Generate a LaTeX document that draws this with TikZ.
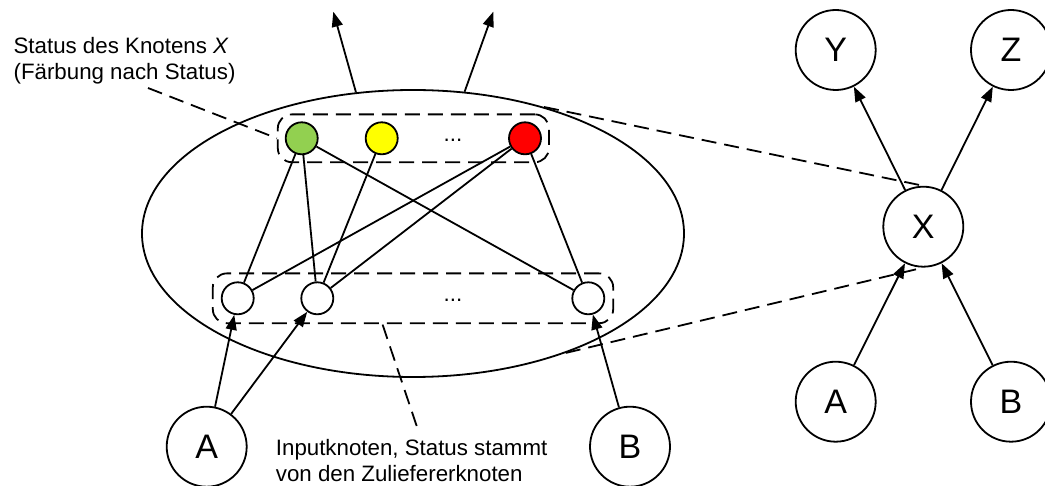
\documentclass[tikz,border=0pt]{standalone}
\usepackage{fontspec}
\setmainfont{Liberation Sans}
\usetikzlibrary{shapes.geometric,arrows.meta,fit}
\definecolor{stgreen}{HTML}{92D050}
\definecolor{styellow}{HTML}{FFFF00}
\definecolor{stred}{HTML}{FF0000}
\begin{document}
\begin{tikzpicture}[x=1pt,y=-1pt,line width=1.8pt,
  big/.style={circle,draw,minimum size=80pt,inner sep=0pt,font=\fontsize{34}{34}\selectfont},
  small/.style={circle,draw,minimum size=32pt,inner sep=0pt},
  arr/.style={-{Triangle[length=15pt,width=11pt]}},
  dsh/.style={dash pattern=on 15pt off 8pt},
  lbl/.style={align=left,inner sep=0pt,font=\fontsize{22.3}{26.7}\selectfont},
  dots/.style={inner sep=0pt,font=\fontsize{22.3}{26.7}\selectfont}]
\useasboundingbox (0,0) rectangle (1045,486);
% ellipse
\node[ellipse,draw,minimum width=542pt,minimum height=287pt,inner sep=0pt] (ell) at (413,233.5) {};
% small circles
\node[small,fill=stgreen] (s1) at (301.7,138.3) {};
\node[small,fill=styellow] (s2) at (381.7,138.3) {};
\node[dots,anchor=base] (d1) at (453,142) {...};
\node[small,fill=stred] (s3) at (525,138.3) {};
\node[small,fill=white] (i1) at (237.7,298.3) {};
\node[small,fill=white] (i2) at (317.3,298.3) {};
\node[dots,anchor=base] (d2) at (453,302) {...};
\node[small,fill=white] (i3) at (588.3,298.3) {};
% dashed boxes
\node[draw,dsh,rounded corners=14pt,fit=(s1)(s3),inner sep=7pt] (topbox) {};
\node[draw,dsh,rounded corners=14pt,fit=(i1)(i3),inner sep=8pt] (ibox) {};
% inner edges
\draw (s1) -- (i1);
\draw (s1) -- (i2);
\draw (s1) -- (i3);
\draw (s2) -- (i2);
\draw (s3) -- (i1);
\draw (s3) -- (i2);
\draw (s3) -- (i3);
% left input nodes
\node[big] (A) at (206.7,446.7) {A};
\node[big] (B) at (630,446.7) {B};
\draw[arr] (A) -- (i1);
\draw[arr] (A) -- (i2);
\draw[arr] (B) -- (i3);
% outgoing arrows
\coordinate (o1) at (333.3,11.7);
\coordinate (o2) at (493.3,11.7);
\draw[arr] (ell.112) -- (o1);
\draw[arr] (ell.70) -- (o2);
% right graph
\node[big] (Y) at (835.7,50) {Y};
\node[big] (Z) at (1011,50) {Z};
\node[big] (X) at (923.3,226.7) {X};
\node[big] (A2) at (835.7,401.7) {A};
\node[big] (B2) at (1011,401.7) {B};
\draw[arr] (X) -- (Y);
\draw[arr] (X) -- (Z);
\draw[arr] (A2) -- (X);
\draw[arr] (B2) -- (X);
% zoom lines
\draw[dsh] (ell.44) -- (X.north);
\draw[dsh] (ell.-38) -- (X.south);
% labels
\node[lbl,anchor=base west] (t1) at (12.7,80) {Status des Knotens \textit{X}\\(Färbung nach Status)};
\coordinate (t1e) at (148,88);
\draw[dsh] (t1e) -- (topbox.west);
\node[lbl,anchor=base west] (t2) at (275,481.7) {Inputknoten, Status stammt\\von den Zuliefererknoten};
\coordinate (t2e) at (416.7,426);
\coordinate (t2b) at (381.7,322);
\draw[dsh] (t2e) -- (t2b);
\end{tikzpicture}
\end{document}
